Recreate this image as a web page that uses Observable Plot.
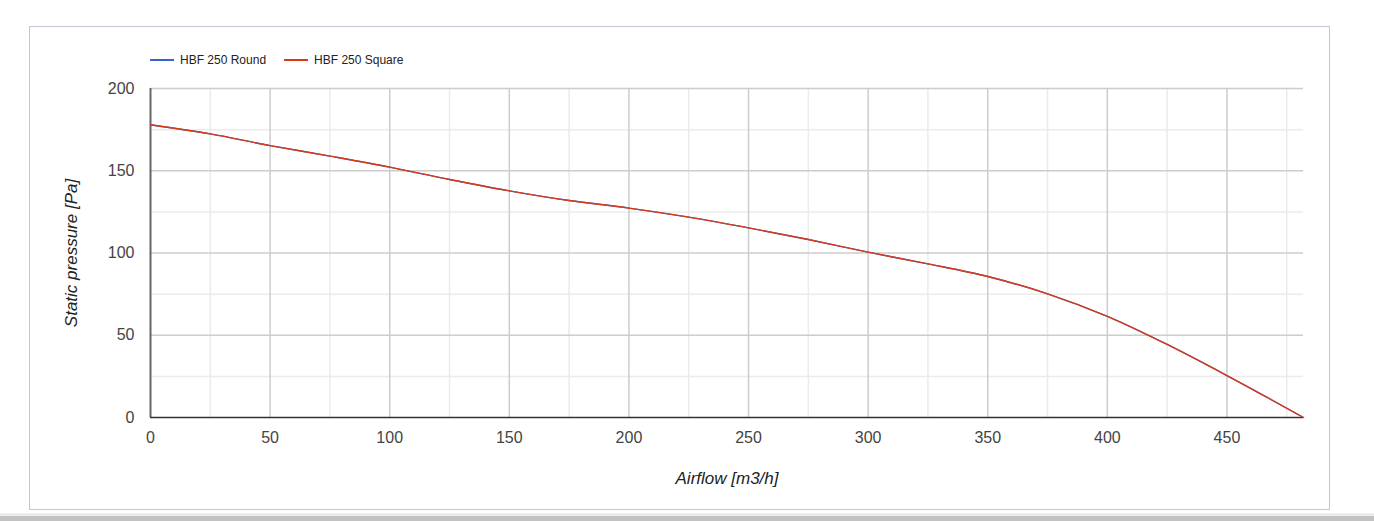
<!DOCTYPE html>
<html>
<head>
<meta charset="utf-8">
<script src="https://cdn.jsdelivr.net/npm/d3@7"></script>
<script src="https://cdn.jsdelivr.net/npm/@observablehq/plot@0.6"></script>
<style>
  html, body { margin: 0; padding: 0; background: #fff; width: 1374px; height: 521px; overflow: hidden; font-family: Arial, "Liberation Sans", sans-serif; }
  #frame { position: absolute; left: 29px; top: 26px; width: 1299px; height: 482px; border: 1px solid #c4c4d4; }
  #bar1 { position: absolute; left: 0; top: 513px; width: 1374px; height: 3px; background: #ececec; }
  #bar2 { position: absolute; left: 0; top: 516px; width: 1374px; height: 5px; background: #c2c2c2; }
  #chart { position: absolute; left: 0; top: 0; }
  #legend { position: absolute; left: 150px; top: 53px; font-size: 12px; color: #222; display: flex; gap: 0; }
  .item { display: flex; align-items: center; margin-right: 18px; }
  .swatch { width: 24px; height: 1.5px; margin-right: 6px; }
</style>
</head>
<body>
<div id="frame"></div>
<div id="bar1"></div>
<div id="bar2"></div>
<div id="chart"></div>
<div id="legend"></div>
<script>
const seriesNames = ["HBF 250 Round", "HBF 250 Square"];
const seriesColors = ["#3366cc", "#dc3912"];
const airflow = [0, 25, 50, 75, 100, 125, 150, 175, 200, 225, 250, 275, 300, 325, 350, 375, 400, 425, 450, 482];
const pressureRound = [178, 172.4, 165.3, 158.9, 152.2, 144.7, 137.8, 131.9, 127.3, 121.8, 115.3, 108.2, 100.5, 93.4, 85.7, 75.2, 61.5, 44.4, 25.5, 0];
const pressureSquare = [178, 172.4, 165.3, 158.9, 152.2, 144.7, 137.8, 131.9, 127.3, 121.8, 115.3, 108.2, 100.5, 93.4, 85.7, 75.2, 61.5, 44.4, 25.5, 0];
const xTicks = [0, 50, 100, 150, 200, 250, 300, 350, 400, 450];
const xMinor = [25, 75, 125, 175, 225, 275, 325, 375, 425, 475];
const yTicks = [0, 50, 100, 150, 200];
const yMinor = [25, 75, 125, 175];

const data = [];
[pressureRound, pressureSquare].forEach((vals, s) => {
  vals.forEach((v, i) => data.push({series: seriesNames[s], airflow: airflow[i], pressure: v}));
});

const chart = Plot.plot({
  width: 1374,
  height: 521,
  marginLeft: 150,
  marginRight: 71,
  marginTop: 88,
  marginBottom: 104,
  style: {fontFamily: "Arial, 'Liberation Sans', sans-serif", fontSize: "16px", color: "#444", background: "transparent"},
  x: {domain: [0, 482]},
  y: {domain: [0, 200]},
  color: {domain: seriesNames, range: seriesColors},
  marks: [
    Plot.ruleX(xMinor, {stroke: "#ebebeb", strokeWidth: 1.5, strokeOpacity: 1}),
    Plot.ruleY(yMinor, {stroke: "#ebebeb", strokeWidth: 1.5, strokeOpacity: 1}),
    Plot.ruleX(xTicks.filter(d => d > 0), {stroke: "#cccccc", strokeWidth: 1.5, strokeOpacity: 1}),
    Plot.ruleY(yTicks.filter(d => d > 0), {stroke: "#cccccc", strokeWidth: 1.5, strokeOpacity: 1}),
    Plot.axisX({ticks: xTicks, tickSize: 0, tickPadding: 14, fontSize: 16, fill: "#444",
      label: "Airflow [m3/h]", labelAnchor: "center", labelOffset: 66, labelArrow: "none"}),
    Plot.axisY({ticks: yTicks, tickSize: 0, tickPadding: 16, fontSize: 16, fill: "#444",
      label: "Static pressure [Pa]", labelAnchor: "center", labelOffset: 86, labelArrow: "none"}),
    Plot.ruleX([0], {stroke: "#666", strokeWidth: 2}),
    Plot.ruleY([0], {stroke: "#333", strokeWidth: 1.5}),
    Plot.line(data, {x: "airflow", y: "pressure", z: "series", stroke: "series", strokeWidth: 1.4, curve: "monotone-x"})
  ]
});
d3.select(chart).selectAll("g[aria-label='x-axis label'] text, g[aria-label='y-axis label'] text")
  .style("font-style", "italic").style("fill", "#222").style("font-size", "17px");
document.getElementById("chart").appendChild(chart);

const legend = document.getElementById("legend");
seriesNames.forEach((n, i) => {
  const it = document.createElement("div");
  it.className = "item";
  const sw = document.createElement("div");
  sw.className = "swatch";
  sw.style.background = seriesColors[i];
  const t = document.createElement("span");
  t.textContent = n;
  it.appendChild(sw); it.appendChild(t);
  legend.appendChild(it);
});
</script>
</body>
</html>
